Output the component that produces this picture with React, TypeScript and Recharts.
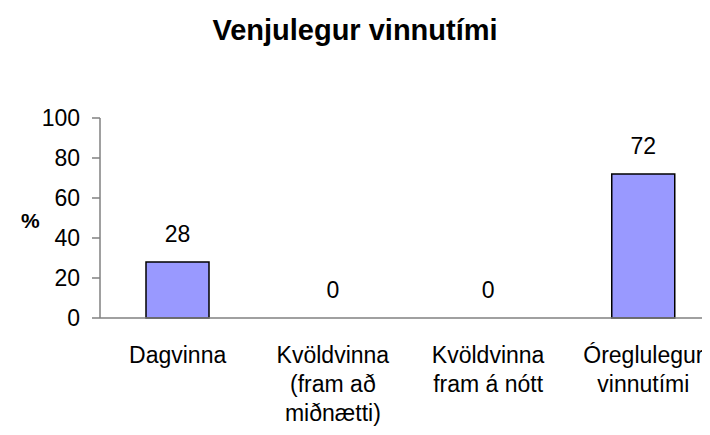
import { Bar, ComposedChart, LabelList, Line, XAxis, YAxis } from "recharts";

const categories = [
  ["Dagvinna"],
  ["Kvöldvinna", "(fram að", "miðnætti)"],
  ["Kvöldvinna", "fram á nótt"],
  ["Óreglulegur", "vinnutími"],
];
const values = [28, 0, 0, 72];
const yTicks = [0, 20, 40, 60, 80, 100];

const data = categories.map((lines, i) => ({ name: lines.join(" "), value: values[i] }));

const FONT = "'Liberation Sans', Arial, sans-serif";

const CategoryTick = (props: any) => {
  const { x, y, index } = props;
  const lines = categories[index] ?? [];
  return (
    <text x={x} y={y + 45} textAnchor="middle" fontSize={23} fontFamily={FONT} fill="#000">
      {lines.map((l, i) => (
        <tspan key={i} x={x} dy={i === 0 ? 0 : 29}>{l}</tspan>
      ))}
    </text>
  );
};

// labels hang off a hidden line so the zero values get one too
const ValueLabel = (props: any) => {
  const { x, y, value } = props;
  return (
    <text x={x} y={y - 20} textAnchor="middle" fontSize={23} fontFamily={FONT} fill="#000">
      {value}
    </text>
  );
};

export default function App() {
  return (
    <div style={{ position: "relative", width: 710, height: 435, margin: -8, overflow: "hidden", background: "#fff", fontFamily: FONT }}>
      <div style={{ position: "absolute", left: 0, width: 710, top: 12, textAlign: "center", fontSize: 29, fontWeight: "bold", lineHeight: "36px" }}>
        Venjulegur vinnutími
      </div>
      <div style={{ position: "absolute", left: 21, top: 208, fontSize: 21, fontWeight: "bold", lineHeight: "26px" }}>%</div>
      <ComposedChart width={722} height={435} data={data} margin={{ top: 118, right: 1, left: 0, bottom: 0 }} barSize={63}>
        <XAxis
          dataKey="name"
          axisLine={{ stroke: "#808080", strokeWidth: 1.5 }}
          tickLine={false}
          tickSize={0}
          tickMargin={0}
          height={117}
          interval={0}
          tick={<CategoryTick />}
        />
        <YAxis
          domain={[0, 100]}
          ticks={yTicks}
          width={100}
          axisLine={{ stroke: "#808080", strokeWidth: 1.5 }}
          tickLine={{ stroke: "#808080", strokeWidth: 1.5 }}
          tickSize={8}
          tickMargin={12}
          tick={{ fontSize: 23, fill: "#000", fontFamily: FONT }}
        />
        <Bar dataKey="value" fill="#9999FF" stroke="#000" strokeWidth={1.5} isAnimationActive={false} />
        <Line dataKey="value" stroke="none" dot={false} activeDot={false} legendType="none" isAnimationActive={false}>
          <LabelList dataKey="value" content={<ValueLabel />} />
        </Line>
      </ComposedChart>
    </div>
  );
}
